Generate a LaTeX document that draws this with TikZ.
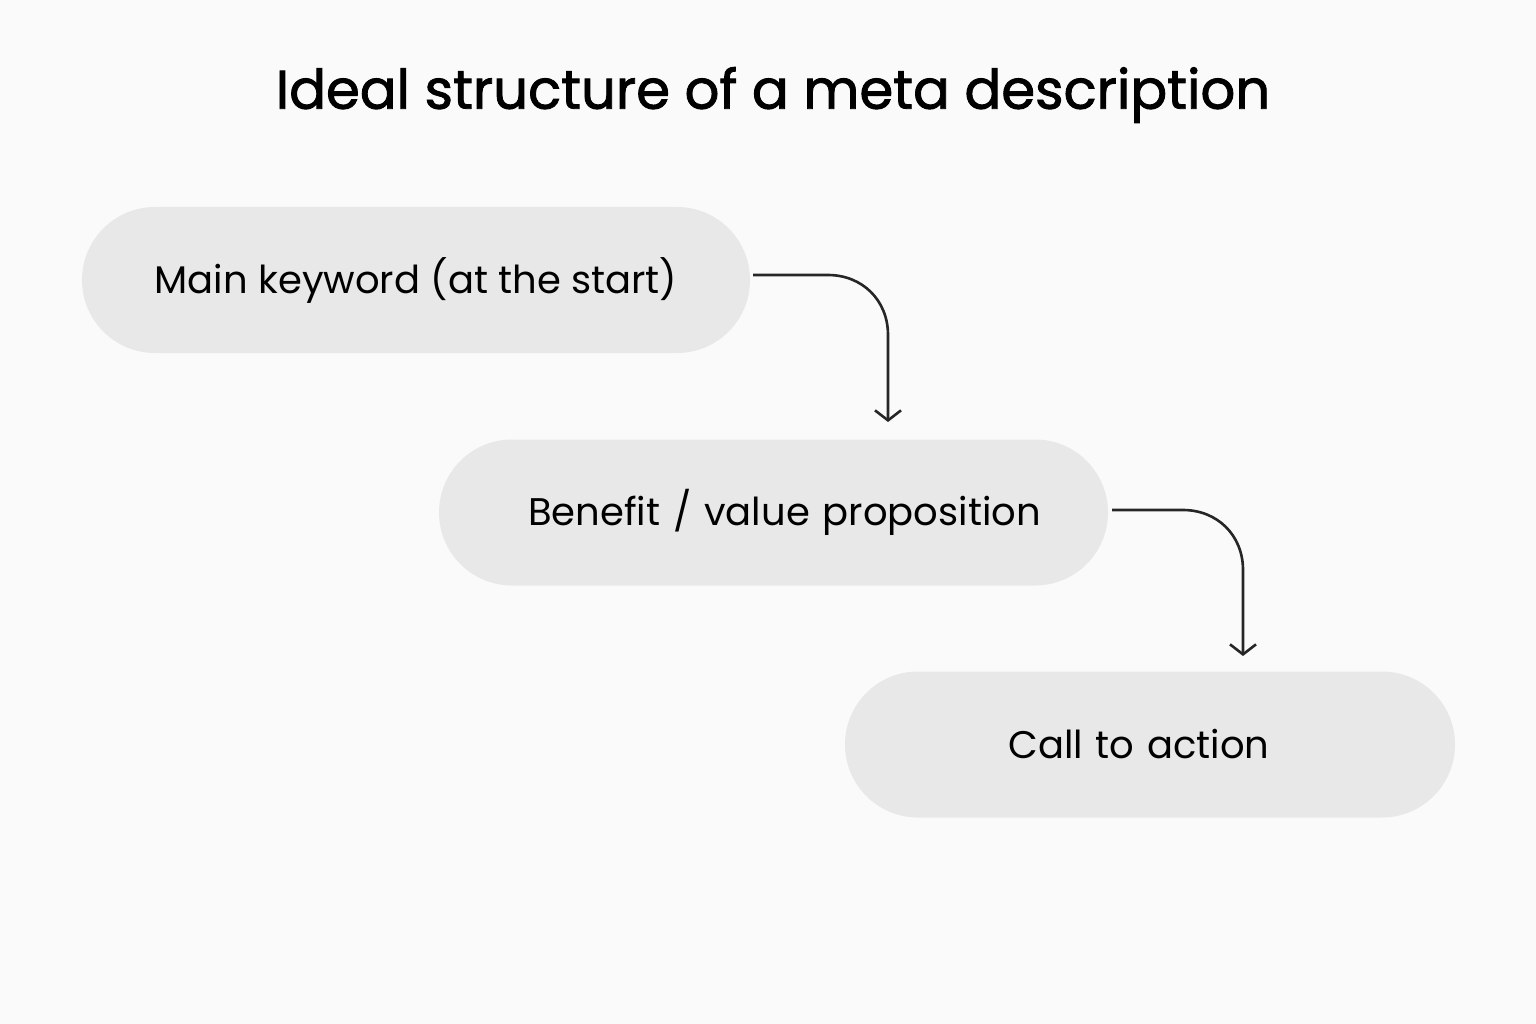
\documentclass[tikz,border=0pt]{standalone}
\usepackage{fontspec}
\setmainfont{Poppins}
\newfontfamily\titlefont[FakeBold=1.6]{Poppins}
\usetikzlibrary{arrows.meta}
\begin{document}
\begin{tikzpicture}[x=1pt,y=-1pt,
  box/.style={fill=black!9,rounded corners=73pt,minimum width=668pt,minimum height=146pt,inner sep=0pt,font=\fontsize{38.5}{42}\selectfont},
  conn/.style={line width=2.6pt,black!85,-{Straight Barb[length=10pt,width=26pt,line width=2.6pt]}}]
\fill[white!98!black] (0,0) rectangle (1536,1024);
\useasboundingbox (0,0) rectangle (1536,1024);
\node (title) at (773,95) {\titlefont\fontsize{54.5}{60}\selectfont Ideal structure of a meta description};
\node[box] (b1) at (416,280) {Main keyword (at the start)};
\node[box,minimum width=669pt,text width=669pt,align=center] (b2) at (773.5,512.5) {\hspace*{22pt}Benefit / value proposition};
\node[box,minimum width=610pt,text width=610pt,align=center] (b3) at (1150,744.5) {\hspace*{-22pt}Call to action};
\coordinate (s1) at (753,275);
\coordinate (e1) at (888,422);
\coordinate (s2) at (1112,510);
\coordinate (e2) at (1243,656);
\draw[conn] (s1) -- (828,275) .. controls (862,275) and (888,300) .. (888,335) -- (e1);
\draw[conn] (s2) -- (1183,510) .. controls (1217,510) and (1243,535) .. (1243,570) -- (e2);
\end{tikzpicture}
\end{document}
